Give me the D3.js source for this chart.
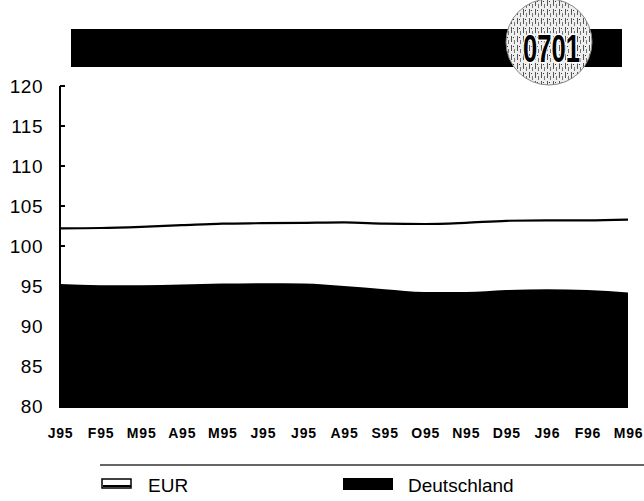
<!DOCTYPE html>
<html><head><meta charset="utf-8">
<script src="https://cdn.jsdelivr.net/npm/d3@7"></script>
<style>html,body{margin:0;padding:0;background:#fff;}svg{display:block;}</style>
</head><body>
<svg id="c" width="644" height="501"></svg>
<script>
const months = ["J95","F95","M95","A95","M95","J95","J95","A95","S95","O95","N95","D95","J96","F96","M96"];
const eur = [102.2,102.25,102.4,102.6,102.8,102.85,102.9,102.95,102.8,102.75,102.9,103.15,103.2,103.2,103.3];
const deutschland = [95.25,95.1,95.1,95.2,95.3,95.35,95.3,95.0,94.6,94.25,94.25,94.5,94.6,94.5,94.2];
const yTicks = [80,85,90,95,100,105,110,115,120];
const badgeText = "0701";
const legendLabels = ["EUR","Deutschland"];

const svg = d3.select("#c");
const font = "'Liberation Sans', Arial, sans-serif";

// header
const defs = svg.append("defs");
const pat = defs.append("pattern").attr("id","tex").attr("patternUnits","userSpaceOnUse")
  .attr("width",6).attr("height",9);
pat.append("rect").attr("width",6).attr("height",9).attr("fill","#eeeeee");
pat.append("rect").attr("x",1).attr("y",0).attr("width",1).attr("height",6).attr("fill","#555");
pat.append("rect").attr("x",4).attr("y",4).attr("width",1).attr("height",4).attr("fill","#777");
pat.append("rect").attr("x",3).attr("y",1).attr("width",1).attr("height",1).attr("fill","#333");

svg.append("rect").attr("x",71).attr("y",29).attr("width",551).attr("height",38).attr("fill","#000");
svg.append("circle").attr("cx",549).attr("cy",42).attr("r",43).attr("fill","url(#tex)").attr("stroke","#888").attr("stroke-width",1);
svg.append("text").attr("x",523).attr("y",62).attr("textLength",57).attr("lengthAdjust","spacingAndGlyphs")
  .attr("font-family",font).attr("font-weight","bold").attr("font-size",38)
  .attr("fill","#000").attr("stroke","#fff").attr("stroke-width",3).attr("paint-order","stroke")
  .text(badgeText);

// scales
const x = d3.scalePoint().domain(d3.range(months.length)).range([60,628]);
const y = d3.scaleLinear().domain([80,120]).range([406,86]);

// area
const area = d3.area().x((d,i)=>x(i)).y0(y(80)+2).y1(d=>y(d)).curve(d3.curveMonotoneX);
svg.append("path").datum(deutschland).attr("d",area).attr("fill","#000");

// EUR line
const line = d3.line().x((d,i)=>x(i)).y(d=>y(d)).curve(d3.curveMonotoneX);
svg.append("path").datum(eur).attr("d",line).attr("fill","none").attr("stroke","#000").attr("stroke-width",2.2);

// y axis
svg.append("line").attr("x1",60).attr("x2",60).attr("y1",y(120)).attr("y2",y(80)+2)
  .attr("stroke","#000").attr("stroke-width",2);
svg.append("g").selectAll("line").data(yTicks).join("line")
  .attr("x1",60).attr("x2",65).attr("y1",d=>y(d)).attr("y2",d=>y(d))
  .attr("stroke","#000").attr("stroke-width",2);
svg.append("g").selectAll("text").data(yTicks).join("text")
  .attr("x",43).attr("y",d=>y(d)).attr("dy","0.36em").attr("text-anchor","end")
  .attr("font-family",font).attr("font-size",19).attr("letter-spacing",0.5).attr("fill","#000")
  .text(d=>d);

// x labels
const xAxis = d3.axisBottom(x).tickSize(0).tickFormat(i=>months[i]);
const xa = svg.append("g").attr("transform","translate(0,425)").call(xAxis);
xa.select(".domain").remove();
xa.selectAll("text").attr("font-family",font).attr("font-weight","bold").attr("font-size",14)
  .attr("letter-spacing",0.8).attr("fill","#000").attr("dy","0.71em");

// legend
svg.append("line").attr("x1",100).attr("x2",644).attr("y1",465).attr("y2",465)
  .attr("stroke","#333").attr("stroke-width",1.5);
svg.append("rect").attr("x",102).attr("y",479).attr("width",29).attr("height",9)
  .attr("fill","#fff").attr("stroke","#000").attr("stroke-width",1.5);
svg.append("line").attr("x1",103).attr("x2",131).attr("y1",486).attr("y2",486).attr("stroke","#000").attr("stroke-width",2);
svg.append("rect").attr("x",343).attr("y",478).attr("width",50).attr("height",12).attr("fill","#000");
svg.append("text").attr("x",148).attr("y",492).attr("font-family",font).attr("font-size",19).attr("fill","#000").text(legendLabels[0]);
svg.append("text").attr("x",408).attr("y",492).attr("font-family",font).attr("font-size",19).attr("fill","#000").text(legendLabels[1]);
</script>
</body></html>
